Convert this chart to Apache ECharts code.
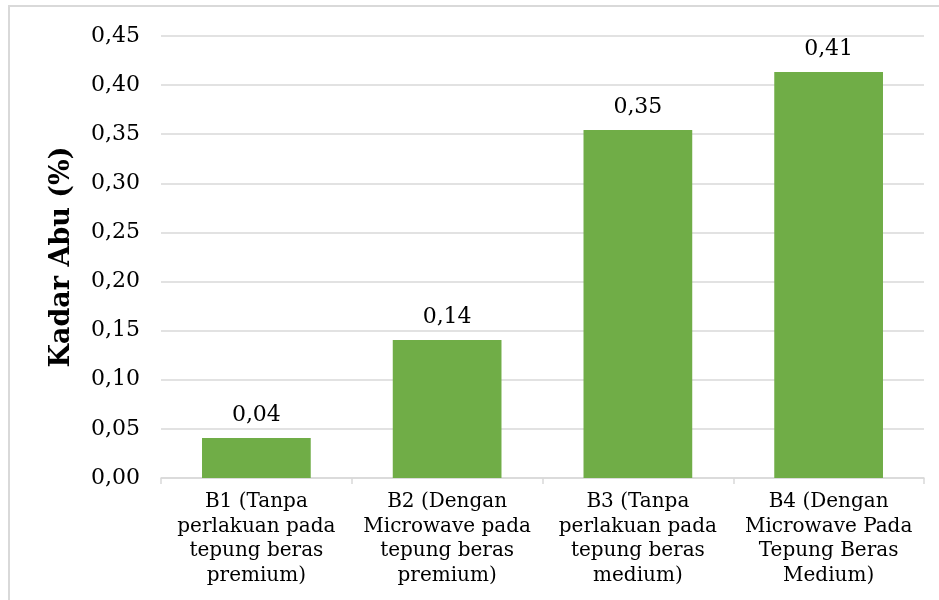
<!DOCTYPE html>
<html>
<head>
<meta charset="utf-8">
<script src="https://cdn.jsdelivr.net/npm/echarts@6/dist/echarts.min.js"></script>
<style>
html, body { margin: 0; padding: 0; background: #fff; }
#chart { width: 939px; height: 600px; }
</style>
</head>
<body>
<div id="chart"></div>
<script>
// Ash content per rice-flour treatment
const categories = [
  'B1 (Tanpa\nperlakuan pada\ntepung beras\npremium)',
  'B2 (Dengan\nMicrowave pada\ntepung beras\npremium)',
  'B3 (Tanpa\nperlakuan pada\ntepung beras\nmedium)',
  'B4 (Dengan\nMicrowave Pada\nTepung Beras\nMedium)'
];
const kadarAbu = [0.0407, 0.1405, 0.3544, 0.4134];
const yAxisTitle = 'Kadar Abu (%)';

const FONT = '"DejaVu Serif", "Liberation Serif", serif';
const fmt = v => v.toFixed(2).replace('.', ',');

const chart = echarts.init(document.getElementById('chart'), null, { renderer: 'canvas' });
chart.setOption({
  backgroundColor: '#fff',
  animation: false,
  textStyle: { fontFamily: FONT },
  graphic: [{
    type: 'rect',
    shape: { x: 9, y: 6, width: 960, height: 620 },
    style: { fill: null, stroke: '#d9d9d9', lineWidth: 2 },
    silent: true
  }],
  grid: { left: 161, right: 15, top: 36, bottom: 122 },
  xAxis: {
    type: 'category',
    data: categories,
    axisLine: { lineStyle: { color: '#d9d9d9', width: 1.5 } },
    axisTick: { show: true, length: 6, lineStyle: { color: '#d9d9d9', width: 1.5 } },
    axisLabel: {
      color: '#000', fontSize: 20, lineHeight: 24.5, margin: 12,
      fontFamily: FONT, interval: 0
    }
  },
  yAxis: {
    type: 'value',
    min: 0, max: 0.45, interval: 0.05,
    name: yAxisTitle,
    nameLocation: 'middle',
    nameGap: 86,
    nameTextStyle: { color: '#000', fontSize: 27, fontWeight: 'bold', fontFamily: FONT },
    axisLine: { show: false },
    axisTick: { show: false },
    splitLine: { lineStyle: { color: '#d9d9d9', width: 1.5 } },
    axisLabel: {
      color: '#000', fontSize: 22, margin: 21, fontFamily: FONT,
      formatter: v => fmt(v)
    }
  },
  series: [{
    type: 'bar',
    data: kadarAbu,
    barWidth: '57%',
    itemStyle: { color: '#70AD47' },
    label: {
      show: true, position: 'top', distance: 12,
      color: '#000', fontSize: 22, fontFamily: FONT,
      formatter: p => fmt(p.value)
    }
  }]
});
</script>
</body>
</html>
